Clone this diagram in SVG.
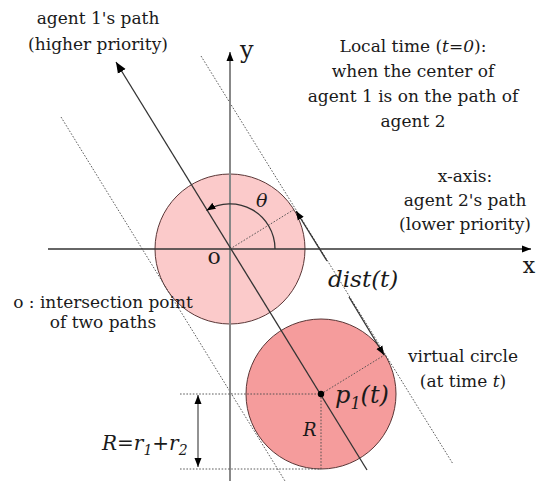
<svg xmlns="http://www.w3.org/2000/svg" width="538" height="481" viewBox="0 0 538 481">
<style>
text{font-family:"DejaVu Serif","Liberation Serif",serif;fill:#1a1a1a;font-size:17px}
.c{text-anchor:middle}
.i{font-style:italic}
.dot{stroke:#4a4a4a;stroke-width:0.9;stroke-dasharray:1.6 1.6;fill:none}
.ln{stroke:#333;stroke-width:1.3;fill:none}
</style>
<defs>
<marker id="ah" markerUnits="userSpaceOnUse" markerWidth="12" markerHeight="10" refX="11" refY="5" orient="auto">
<path d="M0,0.5 L11,5 L0,9.5 z" fill="#000"/>
</marker>
<marker id="as" markerUnits="userSpaceOnUse" markerWidth="10" markerHeight="8" refX="9" refY="4" orient="auto">
<path d="M0,0.5 L9,4 L0,7.5 z" fill="#000"/>
</marker>
<marker id="as0" markerUnits="userSpaceOnUse" markerWidth="10" markerHeight="8" refX="1" refY="4" orient="auto">
<path d="M10,0.5 L1,4 L10,7.5 z" fill="#000"/>
</marker>
</defs>
<rect width="538" height="481" fill="#fff"/>

<g id="circle-t0">
<circle cx="230" cy="249" r="75" fill="#fbcaca" stroke="#5a3636" stroke-width="1"/>
</g>
<g id="circle-virtual">
<circle cx="321" cy="394" r="75" fill="#f59c9c" stroke="#5a3636" stroke-width="1"/>
</g>

<g id="connectors">
<line class="dot" x1="61" y1="117" x2="285" y2="481"/>
<line class="dot" x1="201" y1="56" x2="453" y2="464"/>
<line x1="230" y1="481" x2="230" y2="52" stroke="#888" stroke-width="2" marker-end="url(#as)"/>
<line class="ln" x1="48" y1="249" x2="531" y2="249" marker-end="url(#as)"/>
<line class="ln" x1="367" y1="470" x2="116" y2="62" marker-end="url(#ah)"/>
<line class="dot" x1="230" y1="249" x2="294" y2="209.5"/>
<path class="ln" d="M275,249 A45,45 0 0 0 206.5,210.5" stroke-width="1.2" marker-end="url(#as)"/>
<line class="ln" x1="327" y1="261" x2="296" y2="211" marker-end="url(#as)"/>
<line class="ln" x1="349" y1="297" x2="384" y2="355" marker-end="url(#as)"/>
<line class="dot" x1="321" y1="394" x2="384.5" y2="355"/>
<line class="dot" x1="321" y1="394" x2="321" y2="469"/>
<line class="dot" x1="180" y1="394" x2="321" y2="394"/>
<line class="dot" x1="180" y1="469" x2="321" y2="469"/>
<line x1="198" y1="395" x2="198" y2="467" stroke="#777" stroke-width="1.6" marker-start="url(#as0)" marker-end="url(#as)"/>
<circle cx="321" cy="394" r="3.2" fill="#000"/>
</g>

<g id="labels">
<text class="c" x="98" y="24">agent 1's path</text>
<text class="c" x="98" y="50">(higher priority)</text>
<text class="c" x="413" y="52">Local time (<tspan class="i">t=0</tspan>):</text>
<text class="c" x="413" y="77">when the center of</text>
<text class="c" x="413" y="102">agent 1 is on the path of</text>
<text class="c" x="413" y="127">agent 2</text>
<text class="c" x="465" y="182">x-axis:</text>
<text class="c" x="465" y="206">agent 2's path</text>
<text class="c" x="465" y="230">(lower priority)</text>
<text class="c" x="463" y="362">virtual circle</text>
<text class="c" x="463" y="387">(at time <tspan class="i">t</tspan>)</text>
<text class="c" x="103" y="308">o : intersection point</text>
<text class="c" x="103" y="328">of two paths</text>
<text class="i" x="328" y="287" style="font-size:23px">dist(t)</text>
<text class="i" x="256" y="207" style="font-size:19px">θ</text>
<text class="c" x="214" y="264" style="font-size:22px">o</text>
<text class="c" x="529" y="273" style="font-size:22px">x</text>
<text x="240" y="58" style="font-size:24px">y</text>
<text class="i" x="335" y="403" style="font-size:24px">p<tspan dy="6" style="font-size:16px">1</tspan><tspan dy="-6">(t)</tspan></text>
<text class="i" x="303" y="436" style="font-size:18px">R</text>
<text class="i" x="102" y="450" style="font-size:20px">R=r<tspan dy="5" style="font-size:14px">1</tspan><tspan dy="-5">+r</tspan><tspan dy="5" style="font-size:14px">2</tspan></text>
</g>
</svg>
